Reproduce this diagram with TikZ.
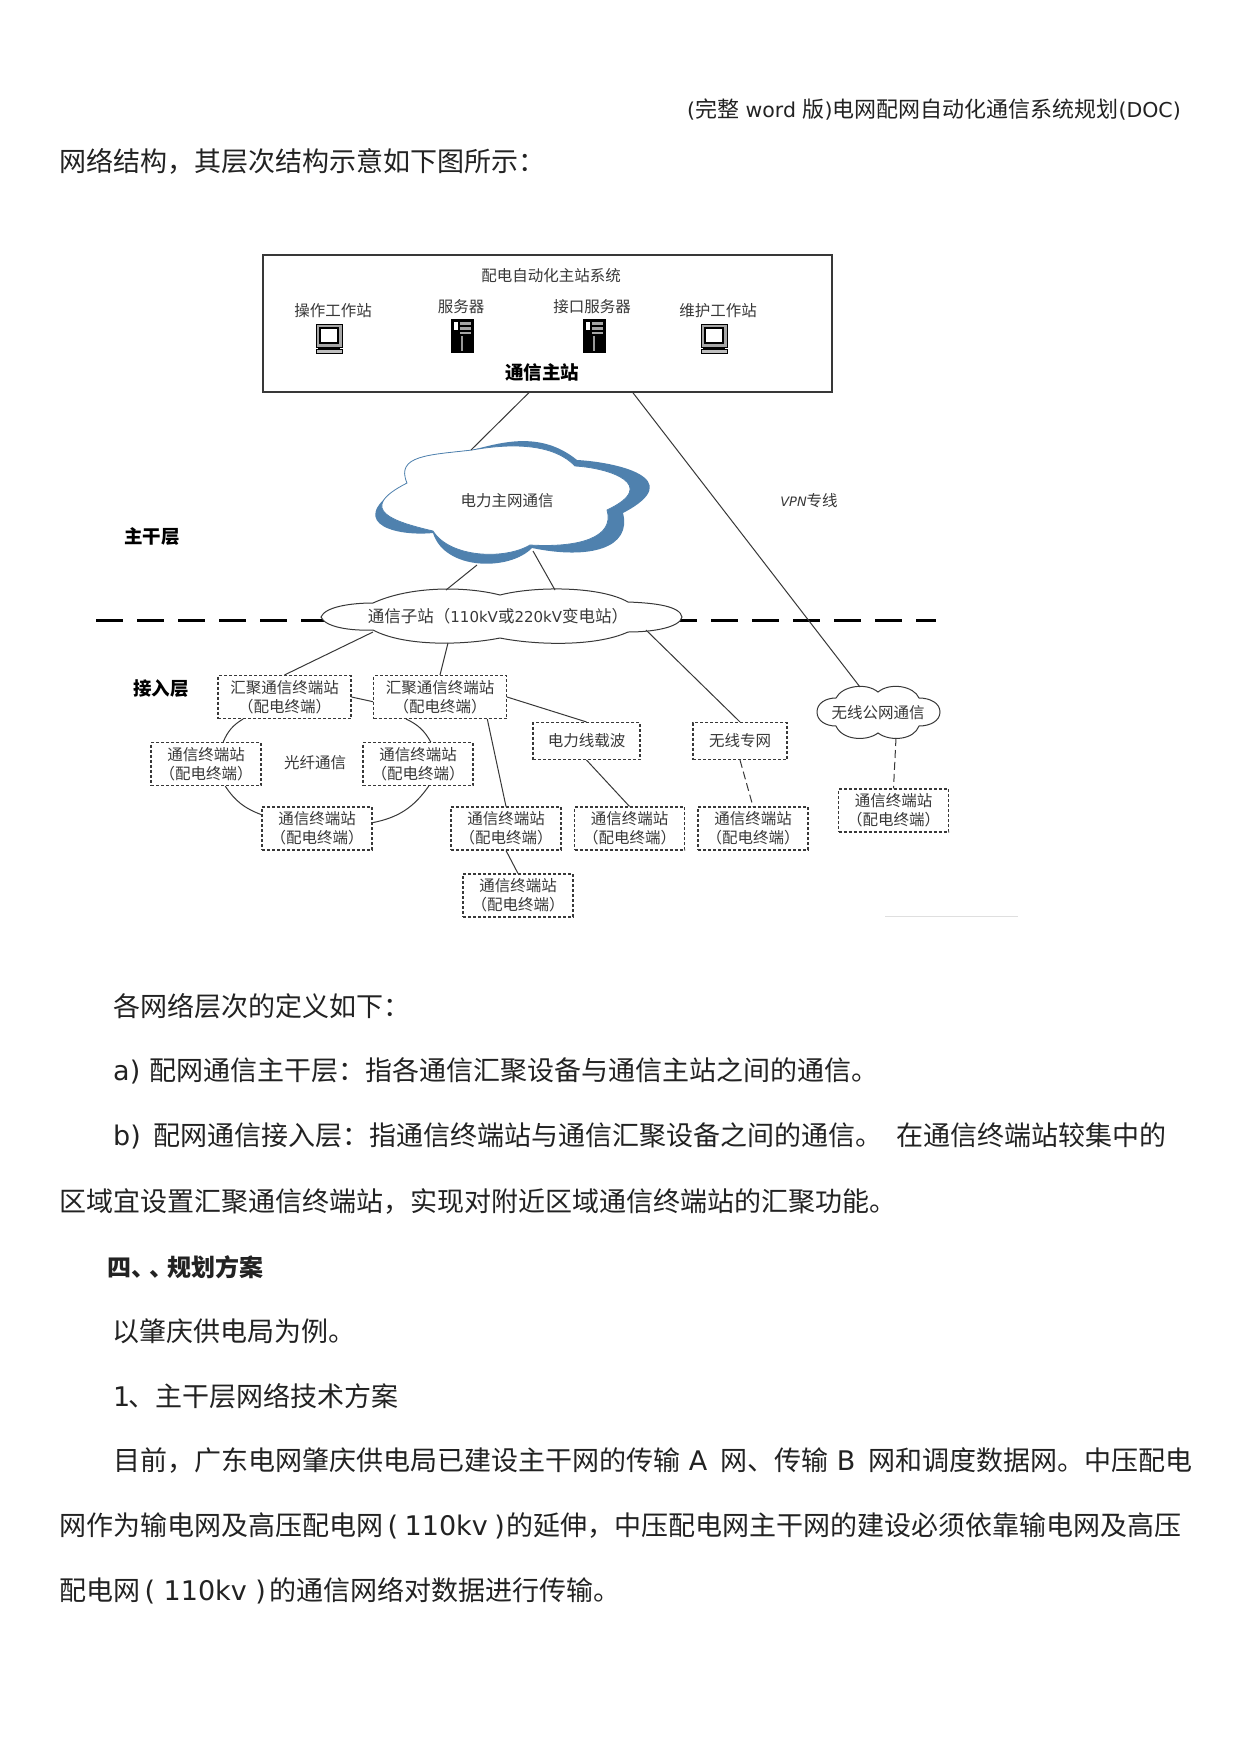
\documentclass[tikz,border=0pt]{standalone}
\usepackage{fontspec}
\setmainfont{Noto Sans CJK SC}
\newfontfamily\latfont{DejaVu Sans}
\usepackage{tikz}
\definecolor{inkgray}{HTML}{383838}
\definecolor{cloudblue}{HTML}{4F81AE}
\definecolor{bodyink}{HTML}{222222}
\newcommand{\twolines}{通信终端站\\[2pt]（配电终端）}
\tikzset{
    bodyline/.style={anchor=west, inner sep=0pt, text=bodyink, font=\fontsize{27}{27}\selectfont},
    smalltext/.style={inner sep=0pt, text=inkgray, font=\fontsize{15.5}{17}\selectfont},
    boldtext/.style={inner sep=0pt, text=black, font=\fontsize{18.5}{18.5}\selectfont\bfseries},
    termbox/.style={draw=inkgray, densely dashed, line width=1.1pt, align=center, text=inkgray,
        font=\fontsize{15.5}{17}\selectfont, minimum width=110pt, minimum height=43pt, inner sep=0pt},
    hubbox/.style={termbox, minimum width=133pt},
    link/.style={draw=inkgray, line width=1pt},
    pcicon/.pic={
        \draw[fill=gray!70, line width=0.6pt] (-13,-14) rectangle (13,9);
        \draw[fill=white, line width=1.6pt] (-9,-10) rectangle (9,5);
        \fill[black] (-11,9) rectangle (11,11);
        \draw[fill=gray!50, line width=0.6pt] (-13,11) rectangle (13,15);
    },
    serverpic/.pic={
        \fill[black] (-11.5,-17) rectangle (11.5,17);
        \fill[white] (-8,-14) rectangle (-4,-6);
        \fill[gray!70] (-2,-14) rectangle (9,-11);
        \fill[gray!70] (-2,-9) rectangle (9,-6);
        \fill[gray!70] (-2,-4) rectangle (9,-2);
        \fill[gray!80] (-0.6,0) rectangle (0.6,15);
    },
}
\begin{document}
\begin{tikzpicture}[x=1pt, y=-1pt]
    \useasboundingbox (0,0) rectangle (1241,1754);
    \fill[white] (0,0) rectangle (1241,1754);

    % Page header and first line
    \node[anchor=east, inner sep=0pt, text=bodyink, font=\fontsize{22}{22}\selectfont] (header) at (1181,110) {{\latfont\fontsize{20.5}{20.5}\selectfont (}完整{\latfont\fontsize{20.5}{20.5}\selectfont\ word\ }版{\latfont\fontsize{20.5}{20.5}\selectfont )}电网配网自动化通信系统规划{\latfont\fontsize{20.5}{20.5}\selectfont (DOC)}};
    \node[bodyline] (intro) at (59,161) {网络结构，其层次结构示意如下图所示：};

    % Layer divider
    \draw[black, line width=3pt, dash pattern=on 27pt off 14pt] (96,620) -- (936,620);

    % Master station
    \node[draw=inkgray, line width=1.2pt, minimum width=569pt, minimum height=137pt] (master) at (547.5,323.5) {};
    \node[smalltext] (mastertitle) at (551,276) {配电自动化主站系统};
    \node[smalltext] (opstation) at (333,311) {操作工作站};
    \node[smalltext] (server) at (461,307) {服务器};
    \node[smalltext] (ifserver) at (592,307) {接口服务器};
    \node[smalltext] (mtstation) at (718,311) {维护工作站};
    \pic at (329,338) {pcicon};
    \pic at (462,336) {serverpic};
    \pic at (594,336) {serverpic};
    \pic at (714,338) {pcicon};
    \node[boldtext] (mastername) at (542,372) {通信主站};

    % Power backbone cloud
    \fill[cloudblue] (472,450) .. controls (500,443) and (540,430) .. (577,460)
        .. controls (615,462) and (690,478) .. (623,513)
        .. controls (632,548) and (590,560) .. (532,548)
        .. controls (510,571) and (445,571) .. (433,533)
        .. controls (390,537) and (342,520) .. (407,483)
        .. controls (395,455) and (430,455) .. (472,450) -- cycle;
    \filldraw[fill=white, draw=cloudblue, line width=0.8pt] (472,450) .. controls (500,445) and (550,440) .. (575,466)
        .. controls (610,468) and (660,485) .. (607,510)
        .. controls (615,537) and (580,548) .. (530,545)
        .. controls (505,560) and (450,558) .. (433,531)
        .. controls (395,522) and (354,510) .. (407,483)
        .. controls (395,455) and (430,455) .. (472,450) -- cycle;
    \node[smalltext] (backbone) at (507,501) {电力主网通信};
    \coordinate (backbone in) at (471,450);
    \coordinate (backbone outa) at (477,565);
    \coordinate (backbone outb) at (533,551);

    % Substation outline
    \filldraw[fill=white, draw=inkgray, line width=1pt] (321,617) .. controls (325,607) and (350,603) .. (373,603)
        .. controls (410,586) and (465,586) .. (500,595)
        .. controls (535,586) and (600,586) .. (628,602)
        .. controls (655,603) and (680,606) .. (682,617)
        .. controls (680,627) and (655,632) .. (628,632)
        .. controls (595,647) and (535,645) .. (500,638)
        .. controls (465,645) and (405,647) .. (373,630)
        .. controls (350,631) and (325,627) .. (321,617) -- cycle;
    \node[smalltext, font=\fontsize{16.5}{17}\selectfont] (substation) at (498,616) {通信子站（{\latfont\fontsize{15}{15}\selectfont 110kV}或{\latfont\fontsize{15}{15}\selectfont 220kV}变电站）};
    \coordinate (sub ina) at (446,590);
    \coordinate (sub inb) at (555,590);
    \coordinate (sub outa) at (373,632);
    \coordinate (sub outb) at (448,643);
    \coordinate (sub outc) at (646,630);

    % Public wireless cloud
    \filldraw[fill=white, draw=inkgray, line width=1pt] (817,712) .. controls (817,703) and (826,698) .. (836,698)
        .. controls (842,686) and (866,682) .. (878,692)
        .. controls (890,682) and (914,686) .. (919,698)
        .. controls (930,698) and (940,703) .. (940,712)
        .. controls (940,721) and (930,726) .. (919,726)
        .. controls (914,740) and (890,742) .. (878,733)
        .. controls (866,742) and (842,740) .. (836,726)
        .. controls (826,726) and (817,721) .. (817,712) -- cycle;
    \node[smalltext] (pubcloud) at (878,713) {无线公网通信};
    \coordinate (pub in) at (860,687);
    \coordinate (pub out) at (896,738);

    % Layer and link labels
    \node[boldtext] (trunklayer) at (152,537) {主干层};
    \node[boldtext] (accesslayer) at (161,689) {接入层};
    \node[smalltext] (vpn) at (809,501) {{\latfont\itshape\fontsize{13}{13}\selectfont VPN}专线};
    \node[smalltext] (fiber) at (315,763) {光纤通信};

    % Terminal boxes
    \node[hubbox] (hub1) at (284.5,697) {汇聚通信终端站\\[2pt]（配电终端）};
    \node[hubbox] (hub2) at (440,697) {汇聚通信终端站\\[2pt]（配电终端）};
    \node[termbox] (termleft) at (206,764) {\twolines};
    \node[termbox] (termright) at (418,764) {\twolines};
    \node[termbox] (termring) at (317,828.5) {\twolines};
    \node[termbox] (termmid) at (506,828.5) {\twolines};
    \node[termbox] (termlow) at (518,895.5) {\twolines};
    \node[termbox] (termplc) at (629.5,828.5) {\twolines};
    \node[termbox] (termpriv) at (753,828.5) {\twolines};
    \node[termbox] (termpub) at (893.5,810.5) {\twolines};
    \node[termbox, minimum width=107pt, minimum height=37pt] (plc) at (586.5,741) {电力线载波};
    \node[termbox, minimum width=94pt, minimum height=37pt] (wlpriv) at (740,741) {无线专网};

    % Solid links
    \draw[link] (master.-105) -- (backbone in);
    \draw[link] (master.-39.7) -- (pub in);
    \draw[link] (backbone outa) -- (sub ina);
    \draw[link] (backbone outb) -- (sub inb);
    \draw[link] (sub outa) -- (hub1.north);
    \draw[link] (sub outb) -- (hub2.north);
    \draw[link] (sub outc) -- (wlpriv.north);
    \draw[link] (hub1.east) -- (hub2.184.3);
    \draw[link] (hub2.east) -- (plc.north);
    \draw[link] (hub2.-25) -- (termmid.north);
    \draw[link] (termmid.south) -- (termlow.north);
    \draw[link] (plc.south) -- (termplc.north);

    % Fibre ring
    \draw[link] (hub1.-152) to[bend right=18] (termleft.52.7);
    \draw[link] (termleft.-49.4) to[bend right=18] (termring.166);
    \draw[link] (termring.6.7) to[bend right=22] (termright.-64.5);
    \draw[link] (termright.60) to[bend right=18] (hub2.-147);

    % Dashed links
    \draw[link, dash pattern=on 8pt off 4pt] (wlpriv.south) -- (termpriv.north);
    \draw[link, dash pattern=on 8pt off 4pt] (pub out) -- (termpub.north);

    % Scan mark under the picture
    \draw[gray!25, line width=0.8pt] (885,916) -- (1018,916);

    % Body text
    \node[bodyline] (para1) at (113,1006) {各网络层次的定义如下：};
    \node[bodyline] (para2) at (113,1071) {{\latfont a)\,}\hspace{5pt}配网通信主干层：指各通信汇聚设备与通信主站之间的通信。};
    \node[bodyline] (para3) at (113,1136) {{\latfont b)\,}\hspace{8pt}配网通信接入层：指通信终端站与通信汇聚设备之间的通信。\hspace{14pt}在通信终端站较集中的};
    \node[bodyline] (para3b) at (59,1201) {区域宜设置汇聚通信终端站，实现对附近区域通信终端站的汇聚功能。};
    \node[bodyline, font=\fontsize{24}{24}\selectfont\bfseries] (head4) at (107,1267) {四、\kern-6pt、\kern-6pt规划方案};
    \node[bodyline] (para4) at (112,1331) {以肇庆供电局为例。};
    \node[bodyline] (para5) at (113,1396) {{\latfont 1}\kern-2pt、主干层网络技术方案};
    \node[bodyline] (para6) at (113,1461) {目前，广东电网肇庆供电局已建设主干网的传输{\latfont\ A\ }\hspace{4.5pt}网、传输{\latfont\ B\ }\hspace{4.5pt}网和调度数据网。中压配电};
    \node[bodyline] (para6b) at (59,1526) {网作为输电网及高压配电网{\latfont\,(\,\hspace{2pt}110kv\,\hspace{2pt})\hspace{2pt}}的延伸，中压配电网主干网的建设必须依靠输电网及高压};
    \node[bodyline] (para6c) at (59,1591) {配电网{\latfont\,(\,\hspace{4pt}110kv\,\hspace{4pt})\hspace{4pt}}的通信网络对数据进行传输。};
\end{tikzpicture}
\end{document}
